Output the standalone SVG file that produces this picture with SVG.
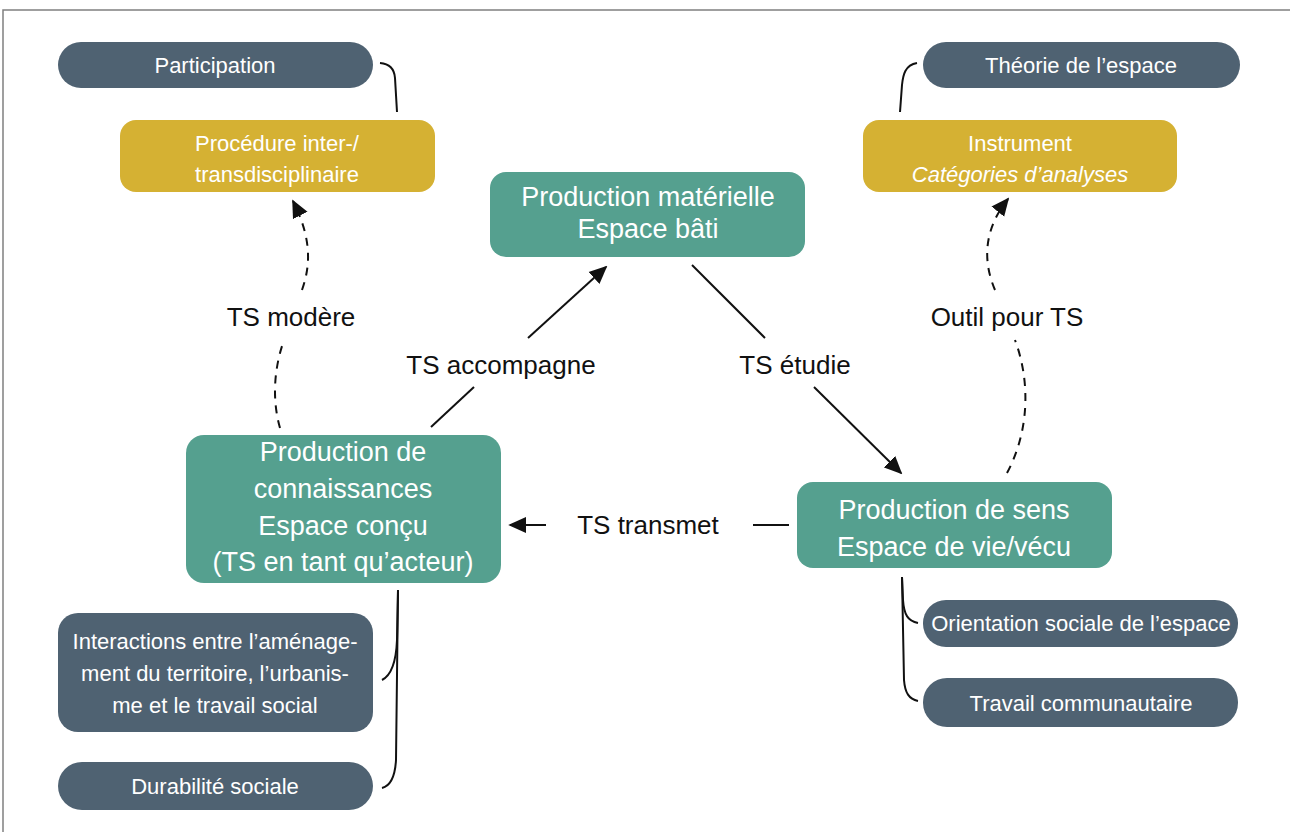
<svg xmlns="http://www.w3.org/2000/svg" width="1290" height="832" viewBox="0 0 1290 832">
<style>
text{font-family:"Liberation Sans",Arial,sans-serif;fill:#fff;text-anchor:middle}
.big{font-size:27px}
.sm{font-size:22px}
.lbl{font-size:26px;fill:#111}
.teal{fill:#55a08f}
.slate{fill:#4f6272}
.gold{fill:#d5b133}
.ln{fill:none;stroke:#111;stroke-width:2}
.dash{stroke-dasharray:8 7}
</style>
<defs>
<marker id="ah" viewBox="0 0 10 10" refX="9" refY="5" markerWidth="9" markerHeight="9" markerUnits="strokeWidth" orient="auto">
<path d="M0,0.5 L10,5 L0,9.5 z" fill="#111"/>
</marker>
</defs>
<rect width="1290" height="832" fill="#fff"/>
<path d="M3,832 V10 H1290" fill="none" stroke="#808080" stroke-width="1.5"/>

<g id="connectors">
<path class="ln" d="M380,63 Q394,64 395,78 L397,112"/>
<path class="ln" d="M917,63 C905,65 903,75 902,85 L900,112"/>
<path class="ln" d="M398,590 L397,640 C396,665 390,676 382,680"/>
<path class="ln" d="M398,590 L396,760 C395,778 390,786 382,788"/>
<path class="ln" d="M902,577 L903,600 C904,615 908,621 918,623"/>
<path class="ln" d="M902,577 L904,680 C905,693 909,699 918,701"/>
<path class="ln" d="M431,427 L474,387"/>
<path class="ln" d="M528,338 L606,267" marker-end="url(#ah)"/>
<path class="ln" d="M692,265 L765,338"/>
<path class="ln" d="M814,387 L901,473" marker-end="url(#ah)"/>
<path class="ln" d="M546,525 L510,525" marker-end="url(#ah)"/>
<path class="ln" d="M753,525 L789,525"/>
<path class="ln dash" d="M280,428 C272,400 274,370 283,343"/>
<path class="ln dash" d="M302,290 C312,262 310,235 293,201" marker-end="url(#ah)"/>
<path class="ln dash" d="M1007,473 C1030,430 1030,380 1015,340"/>
<path class="ln dash" d="M995,290 C983,262 983,230 1008,199" marker-end="url(#ah)"/>
<text class="lbl" x="291" y="326">TS modère</text>
<text class="lbl" x="501" y="374">TS accompagne</text>
<text class="lbl" x="795" y="374">TS étudie</text>
<text class="lbl" x="1007" y="326">Outil pour TS</text>
<text class="lbl" x="648" y="534">TS transmet</text>
</g>

<g id="participation">
<rect class="slate" x="58" y="42" width="315" height="46" rx="23"/>
<text class="sm" x="215" y="73">Participation</text>
</g>
<g id="procedure">
<rect class="gold" x="120" y="120" width="315" height="72" rx="16"/>
<text class="sm" x="277" y="151">Procédure inter-/</text>
<text class="sm" x="277" y="182">transdisciplinaire</text>
</g>
<g id="theorie">
<rect class="slate" x="923" y="42" width="317" height="46" rx="23"/>
<text class="sm" x="1081" y="73">Théorie de l’espace</text>
</g>
<g id="instrument">
<rect class="gold" x="863" y="120" width="314" height="72" rx="16"/>
<text class="sm" x="1020" y="151">Instrument</text>
<text class="sm" x="1020" y="182" font-style="italic">Catégories d’analyses</text>
</g>
<g id="production-materielle">
<rect class="teal" x="490" y="172" width="315" height="85" rx="16"/>
<text class="big" x="648" y="206">Production matérielle</text>
<text class="big" x="648" y="238">Espace bâti</text>
</g>
<g id="production-connaissances">
<rect class="teal" x="186" y="435" width="315" height="148" rx="18"/>
<text class="big" x="343" y="461">Production de</text>
<text class="big" x="343" y="498">connaissances</text>
<text class="big" x="343" y="535">Espace conçu</text>
<text class="big" x="343" y="571">(TS en tant qu’acteur)</text>
</g>
<g id="production-sens">
<rect class="teal" x="797" y="482" width="315" height="86" rx="16"/>
<text class="big" x="954" y="519">Production de sens</text>
<text class="big" x="954" y="556">Espace de vie/vécu</text>
</g>
<g id="orientation">
<rect class="slate" x="923" y="600" width="315" height="47" rx="23"/>
<text class="sm" x="1081" y="631">Orientation sociale de l’espace</text>
</g>
<g id="travail-communautaire">
<rect class="slate" x="923" y="678" width="315" height="49" rx="24"/>
<text class="sm" x="1081" y="711">Travail communautaire</text>
</g>
<g id="interactions">
<rect class="slate" x="58" y="613" width="315" height="119" rx="20"/>
<text class="sm" x="215" y="649">Interactions entre l’aménage-</text>
<text class="sm" x="215" y="681">ment du territoire, l’urbanis-</text>
<text class="sm" x="215" y="713">me et le travail social</text>
</g>
<g id="durabilite">
<rect class="slate" x="58" y="762" width="315" height="48" rx="24"/>
<text class="sm" x="215" y="794">Durabilité sociale</text>
</g>
</svg>
